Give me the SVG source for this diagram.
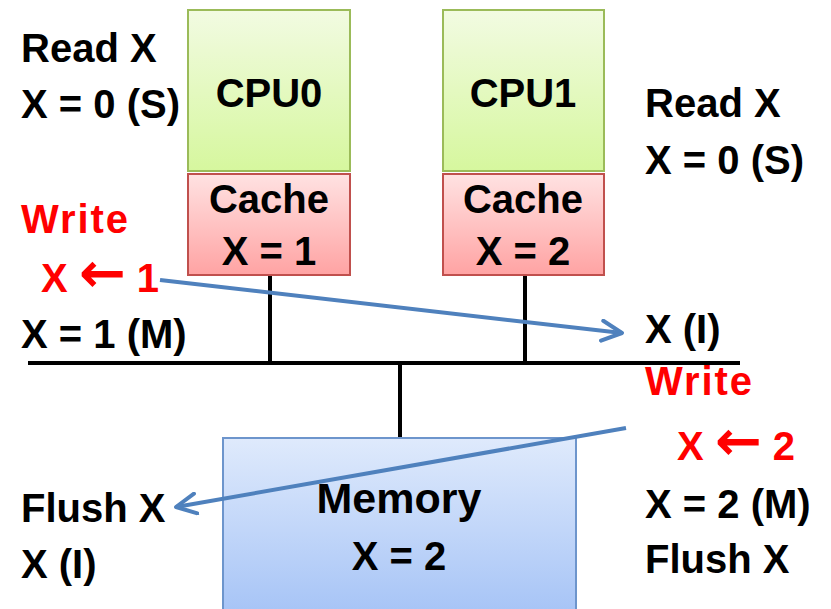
<svg xmlns="http://www.w3.org/2000/svg" width="831" height="609" viewBox="0 0 831 609">
  <style>
    text { font-family: "Liberation Sans", Arial, sans-serif; font-weight: bold; font-size: 40px; fill: #000; }
    .red { fill: #ff0000; }
    .mid { text-anchor: middle; }
    .big { font-size: 43px; }
    .arw { font-family: "DejaVu Sans", sans-serif; font-weight: bold; font-size: 56px; }
    .wire { stroke: #000; stroke-width: 4; fill: none; }
    .msg { stroke: #4f81bd; stroke-width: 4; fill: none; marker-end: url(#chev); }
  </style>
  <defs>
    <linearGradient id="gCpu" x1="0" y1="0" x2="0" y2="1">
      <stop offset="0" stop-color="#f2fbe2"/>
      <stop offset="1" stop-color="#d6f79e"/>
    </linearGradient>
    <linearGradient id="gCache" x1="0" y1="0" x2="0" y2="1">
      <stop offset="0" stop-color="#ffe2e2"/>
      <stop offset="1" stop-color="#ffa3a3"/>
    </linearGradient>
    <linearGradient id="gMem" x1="0" y1="0" x2="0" y2="1">
      <stop offset="0" stop-color="#dfeafc"/>
      <stop offset="1" stop-color="#a5c3f6"/>
    </linearGradient>
    <marker id="chev" viewBox="0 0 12 12" refX="11" refY="6" markerWidth="6" markerHeight="6" orient="auto" markerUnits="strokeWidth">
      <path d="M1,1 L11,6 L1,11" fill="none" stroke="#4f81bd" stroke-width="2" stroke-linecap="round" stroke-linejoin="round"/>
    </marker>
  </defs>

  <!-- bus wiring -->
  <g id="connectors">
    <line class="wire" x1="28" y1="363" x2="740" y2="363" stroke-width="5"/>
    <line class="wire" x1="270" y1="275" x2="270" y2="363"/>
    <line class="wire" x1="525" y1="275" x2="525" y2="363"/>
    <line class="wire" x1="400" y1="363" x2="400" y2="438"/>
  </g>

  <g id="cpu0">
    <rect x="188" y="10" width="162" height="161" fill="url(#gCpu)" stroke="#9bbb59" stroke-width="2"/>
    <text class="mid" x="269" y="107">CPU0</text>
  </g>
  <g id="cache0">
    <rect x="188" y="174" width="162" height="101" fill="url(#gCache)" stroke="#c0504d" stroke-width="2"/>
    <text class="mid" x="269" y="213">Cache</text>
    <text class="mid" x="269" y="265">X = 1</text>
  </g>
  <g id="cpu1">
    <rect x="443" y="10" width="161" height="161" fill="url(#gCpu)" stroke="#9bbb59" stroke-width="2"/>
    <text class="mid" x="523" y="107">CPU1</text>
  </g>
  <g id="cache1">
    <rect x="443" y="174" width="161" height="101" fill="url(#gCache)" stroke="#c0504d" stroke-width="2"/>
    <text class="mid" x="523" y="213">Cache</text>
    <text class="mid" x="523" y="265">X = 2</text>
  </g>
  <g id="memory">
    <rect x="223" y="438" width="353" height="180" fill="url(#gMem)" stroke="#6d95cc" stroke-width="2"/>
    <text class="mid big" x="399" y="513">Memory</text>
    <text class="mid" x="399" y="570">X = 2</text>
  </g>

  <!-- CPU0 event log -->
  <g id="log0">
    <text x="21" y="62">Read X</text>
    <text x="21" y="118">X = 0 (S)</text>
    <text class="red" x="21" y="233" textLength="107">Write</text>
    <text class="red" x="41" y="292">X <tspan class="arw">←</tspan> 1</text>
    <text x="21" y="348">X = 1 (M)</text>
    <text x="21" y="522">Flush X</text>
    <text x="21" y="578">X (I)</text>
  </g>

  <!-- CPU1 event log -->
  <g id="log1">
    <text x="645" y="117">Read X</text>
    <text x="645" y="174">X = 0 (S)</text>
    <text x="645" y="343">X (I)</text>
    <text class="red" x="645" y="395" textLength="107">Write</text>
    <text class="red" x="677" y="460">X <tspan class="arw">←</tspan> 2</text>
    <text x="645" y="518">X = 2 (M)</text>
    <text x="645" y="573">Flush X</text>
  </g>

  <!-- coherence messages -->
  <g id="messages">
    <line class="msg" x1="160" y1="280" x2="622" y2="333"/>
    <line class="msg" x1="626" y1="428" x2="176" y2="507"/>
  </g>
</svg>
